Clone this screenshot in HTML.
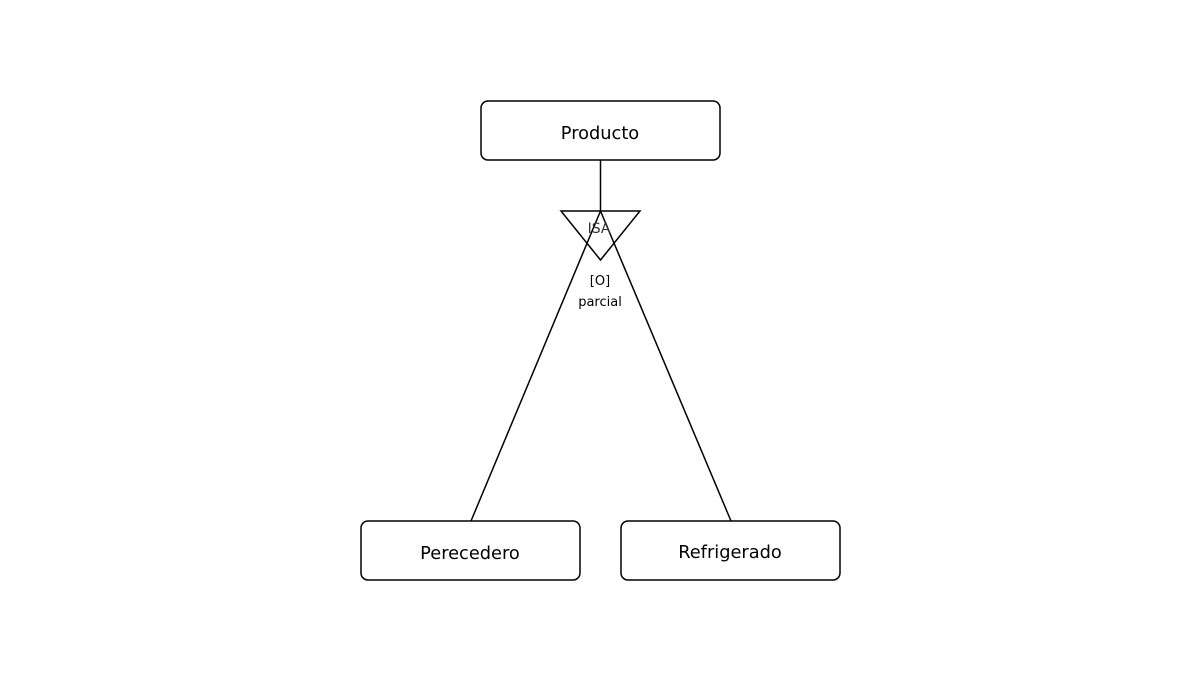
<!DOCTYPE html>
<html><head><meta charset="utf-8"><style>html,body{margin:0;padding:0;background:#fff;}</style></head>
<body>
<svg width="1200" height="700" xmlns="http://www.w3.org/2000/svg" style="display:block">
<g fill="#fff" stroke="#000" stroke-width="1.5">
<rect x="481" y="101" width="239" height="59" rx="7"/>
<rect x="361" y="521" width="219" height="59" rx="7"/>
<rect x="621" y="521" width="219" height="59" rx="7"/>
</g>
<g stroke="#000" stroke-width="1.5" fill="none">
<line x1="600.5" y1="160" x2="600.5" y2="211"/>
<polygon points="561,211 640,211 600.5,260"/>
<line x1="600.5" y1="211" x2="471" y2="521"/>
<line x1="600.5" y1="211" x2="731" y2="521"/>
</g>
<g font-family="DejaVu Sans, sans-serif" text-anchor="middle">
<text x="600" y="139" font-size="17.8">Producto</text>
<text x="470" y="559" font-size="17.8">Perecedero</text>
<text x="730" y="558" font-size="17.8">Refrigerado</text>
<text x="599" y="233" font-size="14" fill="#333">ISA</text>
<text x="600" y="285" font-size="13">[O]</text>
<text x="600" y="306" font-size="13">parcial</text>
</g>
</svg>
</body></html>
